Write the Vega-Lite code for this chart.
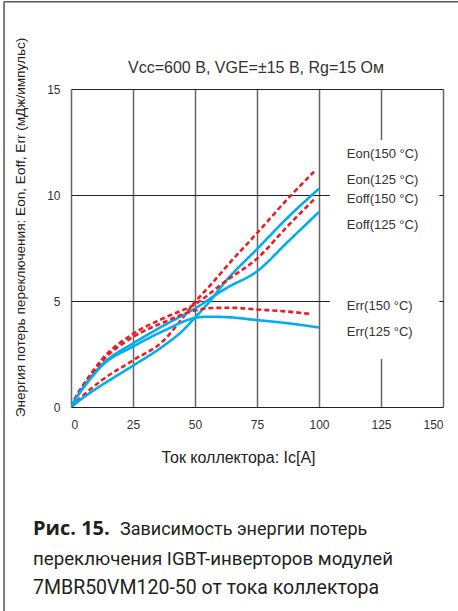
{
  "$schema": "https://vega.github.io/schema/vega-lite/v6.json",
  "width": 372,
  "height": 318,
  "autosize": {"type": "none"},
  "padding": {"left": 71, "top": 89, "right": 15, "bottom": 204},
  "background": "white",
  "config": {"view": {"stroke": null}, "font": "Liberation Sans"},
  "data": {"values": [{}]},
  "datasets": {
    "curves": [
      {"Ic": 0, "E": 0, "series": "Eon(150 °C)"},
      {"Ic": 5, "E": 0.55, "series": "Eon(150 °C)"},
      {"Ic": 12.5, "E": 1.27, "series": "Eon(150 °C)"},
      {"Ic": 25, "E": 2.2, "series": "Eon(150 °C)"},
      {"Ic": 37.5, "E": 3.15, "series": "Eon(150 °C)"},
      {"Ic": 45, "E": 4.2, "series": "Eon(150 °C)"},
      {"Ic": 50, "E": 4.95, "series": "Eon(150 °C)"},
      {"Ic": 57, "E": 5.85, "series": "Eon(150 °C)"},
      {"Ic": 64, "E": 6.8, "series": "Eon(150 °C)"},
      {"Ic": 75, "E": 8.2, "series": "Eon(150 °C)"},
      {"Ic": 88, "E": 9.9, "series": "Eon(150 °C)"},
      {"Ic": 98, "E": 11.1, "series": "Eon(150 °C)"},
      {"Ic": 0, "E": 0, "series": "Eon(125 °C)"},
      {"Ic": 5, "E": 0.45, "series": "Eon(125 °C)"},
      {"Ic": 12.5, "E": 1.04, "series": "Eon(125 °C)"},
      {"Ic": 25, "E": 1.95, "series": "Eon(125 °C)"},
      {"Ic": 37.5, "E": 2.9, "series": "Eon(125 °C)"},
      {"Ic": 45, "E": 3.6, "series": "Eon(125 °C)"},
      {"Ic": 50, "E": 4.22, "series": "Eon(125 °C)"},
      {"Ic": 55, "E": 4.85, "series": "Eon(125 °C)"},
      {"Ic": 62.5, "E": 5.95, "series": "Eon(125 °C)"},
      {"Ic": 75, "E": 7.45, "series": "Eon(125 °C)"},
      {"Ic": 87.5, "E": 8.95, "series": "Eon(125 °C)"},
      {"Ic": 100, "E": 10.3, "series": "Eon(125 °C)"},
      {"Ic": 0, "E": 0, "series": "Eoff(150 °C)"},
      {"Ic": 2.5, "E": 0.6, "series": "Eoff(150 °C)"},
      {"Ic": 5, "E": 1.05, "series": "Eoff(150 °C)"},
      {"Ic": 12.5, "E": 2.25, "series": "Eoff(150 °C)"},
      {"Ic": 25, "E": 3.45, "series": "Eoff(150 °C)"},
      {"Ic": 37.5, "E": 4.2, "series": "Eoff(150 °C)"},
      {"Ic": 50, "E": 4.85, "series": "Eoff(150 °C)"},
      {"Ic": 62.5, "E": 5.95, "series": "Eoff(150 °C)"},
      {"Ic": 75, "E": 7.0, "series": "Eoff(150 °C)"},
      {"Ic": 87.5, "E": 8.55, "series": "Eoff(150 °C)"},
      {"Ic": 98.5, "E": 9.85, "series": "Eoff(150 °C)"},
      {"Ic": 0, "E": 0, "series": "Eoff(125 °C)"},
      {"Ic": 2.5, "E": 0.5, "series": "Eoff(125 °C)"},
      {"Ic": 5, "E": 0.95, "series": "Eoff(125 °C)"},
      {"Ic": 12.5, "E": 2.0, "series": "Eoff(125 °C)"},
      {"Ic": 25, "E": 3.0, "series": "Eoff(125 °C)"},
      {"Ic": 37.5, "E": 3.85, "series": "Eoff(125 °C)"},
      {"Ic": 50, "E": 4.65, "series": "Eoff(125 °C)"},
      {"Ic": 62.5, "E": 5.6, "series": "Eoff(125 °C)"},
      {"Ic": 75, "E": 6.4, "series": "Eoff(125 °C)"},
      {"Ic": 87.5, "E": 7.8, "series": "Eoff(125 °C)"},
      {"Ic": 100, "E": 9.2, "series": "Eoff(125 °C)"},
      {"Ic": 0, "E": 0, "series": "Err(150 °C)"},
      {"Ic": 2.5, "E": 0.55, "series": "Err(150 °C)"},
      {"Ic": 5, "E": 1.0, "series": "Err(150 °C)"},
      {"Ic": 12.5, "E": 2.15, "series": "Err(150 °C)"},
      {"Ic": 25, "E": 3.3, "series": "Err(150 °C)"},
      {"Ic": 37.5, "E": 4.0, "series": "Err(150 °C)"},
      {"Ic": 50, "E": 4.55, "series": "Err(150 °C)"},
      {"Ic": 57, "E": 4.67, "series": "Err(150 °C)"},
      {"Ic": 65, "E": 4.68, "series": "Err(150 °C)"},
      {"Ic": 75, "E": 4.6, "series": "Err(150 °C)"},
      {"Ic": 87.5, "E": 4.5, "series": "Err(150 °C)"},
      {"Ic": 97, "E": 4.38, "series": "Err(150 °C)"},
      {"Ic": 0, "E": 0, "series": "Err(125 °C)"},
      {"Ic": 2.5, "E": 0.5, "series": "Err(125 °C)"},
      {"Ic": 5, "E": 0.9, "series": "Err(125 °C)"},
      {"Ic": 12.5, "E": 1.95, "series": "Err(125 °C)"},
      {"Ic": 25, "E": 2.85, "series": "Err(125 °C)"},
      {"Ic": 37.5, "E": 3.6, "series": "Err(125 °C)"},
      {"Ic": 50, "E": 4.2, "series": "Err(125 °C)"},
      {"Ic": 55, "E": 4.26, "series": "Err(125 °C)"},
      {"Ic": 62.5, "E": 4.24, "series": "Err(125 °C)"},
      {"Ic": 75, "E": 4.1, "series": "Err(125 °C)"},
      {"Ic": 87.5, "E": 3.95, "series": "Err(125 °C)"},
      {"Ic": 100, "E": 3.75, "series": "Err(125 °C)"}
    ],
    "labels": [
      {"label": "Eon(150 °C)", "Ic": 111.2, "E": 11.93},
      {"label": "Eon(125 °C)", "Ic": 111.2, "E": 10.71},
      {"label": "Eoff(150 °C)", "Ic": 111.2, "E": 9.8},
      {"label": "Eoff(125 °C)", "Ic": 111.2, "E": 8.58},
      {"label": "Err(150 °C)", "Ic": 111.2, "E": 4.76},
      {"label": "Err(125 °C)", "Ic": 111.2, "E": 3.55}
    ]
  },
  "layer": [
    {
      "data": {"name": "curves"},
      "mark": {"type": "line", "interpolate": "monotone", "strokeWidth": 2.6, "clip": true},
      "encoding": {
        "x": {"field": "Ic", "type": "quantitative", "scale": {"domain": [0, 150], "nice": false},
          "axis": {"title": "Ток коллектора: Ic[A]", "values": [0, 25, 50, 75, 100, 125, 150], "grid": true, "gridColor": "#666", "gridWidth": 1.5, "domain": false, "ticks": false, "labelPadding": 12, "labelFontSize": 12, "labelColor": "#333", "labelFont": "Liberation Sans", "titleFont": "Liberation Sans", "titleFontSize": 16, "titleFontWeight": "normal", "titleColor": "#222", "titleX": 167, "titleY": 50, "titleBaseline": "middle", "titleAlign": "center"}},
        "y": {"field": "E", "type": "quantitative", "scale": {"domain": [0, 15], "nice": false},
          "axis": {"title": "Энергия потерь переключения: Eon, Eoff, Err (мДж/импульс)", "values": [0, 5, 10, 15], "grid": true, "gridColor": "#222", "gridWidth": 1.2, "domain": false, "ticks": false, "labelPadding": 11, "labelFontSize": 12, "labelColor": "#333", "labelFont": "Liberation Sans", "titleFont": "Liberation Sans", "titleFontSize": 13.6, "titleFontWeight": "normal", "titleColor": "#222", "titleX": -44, "titleY": 138, "titleBaseline": "bottom", "titleAlign": "center", "titleAngle": -90}},
        "color": {"field": "series", "type": "nominal", "legend": null,
          "scale": {"domain": ["Eon(150 °C)", "Eon(125 °C)", "Eoff(150 °C)", "Eoff(125 °C)", "Err(150 °C)", "Err(125 °C)"], "range": ["#ED1C24", "#00AEEF", "#ED1C24", "#00AEEF", "#ED1C24", "#00AEEF"]}},
        "strokeDash": {"field": "series", "type": "nominal", "legend": null,
          "scale": {"domain": ["Eon(150 °C)", "Eon(125 °C)", "Eoff(150 °C)", "Eoff(125 °C)", "Err(150 °C)", "Err(125 °C)"], "range": [[5, 3], [1, 0], [5, 3], [1, 0], [5, 3], [1, 0]]}},
        "order": {"field": "Ic", "type": "quantitative"}
      }
    },
    {
      "mark": {"type": "rect", "fill": "white", "stroke": null},
      "encoding": {
        "x": {"datum": 104.4, "type": "quantitative"},
        "x2": {"datum": 148.5},
        "y": {"datum": 2.26, "type": "quantitative"},
        "y2": {"datum": 12.6}
      }
    },
    {
      "data": {"name": "labels"},
      "mark": {"type": "text", "align": "left", "baseline": "middle", "fontSize": 13, "color": "#333", "font": "Liberation Sans"},
      "encoding": {
        "x": {"field": "Ic", "type": "quantitative"},
        "y": {"field": "E", "type": "quantitative"},
        "text": {"field": "label"}
      }
    },
    {
      "mark": {"type": "text", "align": "center", "baseline": "middle", "fontSize": 16, "color": "#333", "font": "Liberation Sans", "text": "Vcc=600 В, VGE=±15 В, Rg=15 Ом"},
      "encoding": {
        "x": {"datum": 74.6, "type": "quantitative"},
        "y": {"datum": 15.99, "type": "quantitative"}
      }
    },
    {
      "mark": {"type": "text", "align": "left", "baseline": "alphabetic", "fontSize": 20, "fontWeight": "bold", "color": "#231f20", "font": "Open Sans", "text": "Рис. 15."},
      "encoding": {
        "x": {"datum": -15.32, "type": "quantitative"},
        "y": {"datum": -6.04, "type": "quantitative"}
      }
    },
    {
      "mark": {"type": "text", "align": "left", "baseline": "alphabetic", "fontSize": 18, "color": "#231f20", "font": "Roboto", "text": "Зависимость энергии потерь"},
      "encoding": {
        "x": {"datum": 19.76, "type": "quantitative"},
        "y": {"datum": -6.04, "type": "quantitative"}
      }
    },
    {
      "mark": {"type": "text", "align": "left", "baseline": "alphabetic", "fontSize": 18.7, "color": "#231f20", "font": "Roboto", "text": "переключения IGBT-инверторов модулей"},
      "encoding": {
        "x": {"datum": -15.32, "type": "quantitative"},
        "y": {"datum": -7.45, "type": "quantitative"}
      }
    },
    {
      "mark": {"type": "text", "align": "left", "baseline": "alphabetic", "fontSize": 19.5, "color": "#231f20", "font": "Roboto", "text": "7MBR50VM120-50 от тока коллектора"},
      "encoding": {
        "x": {"datum": -15.32, "type": "quantitative"},
        "y": {"datum": -8.82, "type": "quantitative"}
      }
    },
    {
      "mark": {"type": "rule", "color": "#555", "strokeWidth": 1.5},
      "encoding": {
        "x": {"datum": -27.0, "type": "quantitative"},
        "y": {"datum": 19.12, "type": "quantitative"},
        "y2": {"datum": -9.7}
      }
    },
    {
      "mark": {"type": "rule", "color": "#555", "strokeWidth": 1.5},
      "encoding": {
        "x": {"datum": -27.0, "type": "quantitative"},
        "x2": {"datum": 157},
        "y": {"datum": 19.12, "type": "quantitative"}
      }
    }
  ]
}
